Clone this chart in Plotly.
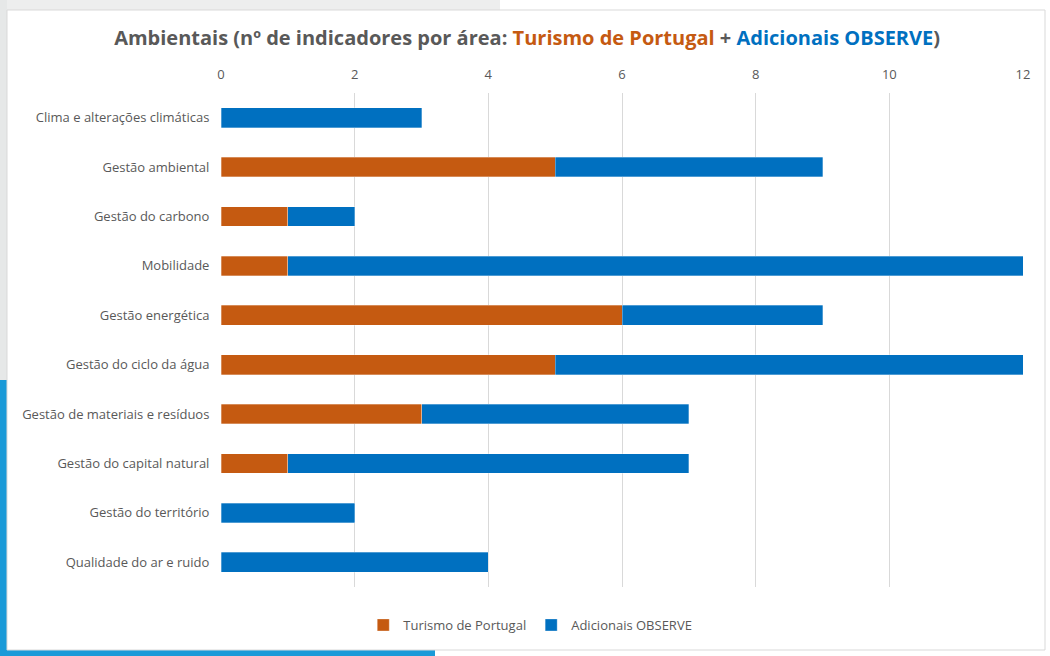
import plotly.graph_objects as go

categories = [
    "Clima e alterações climáticas",
    "Gestão ambiental",
    "Gestão do carbono",
    "Mobilidade",
    "Gestão energética",
    "Gestão do ciclo da água",
    "Gestão de materiais e resíduos",
    "Gestão do capital natural",
    "Gestão do território",
    "Qualidade do ar e ruido",
]
turismo = [0, 5, 1, 1, 6, 5, 3, 1, 0, 0]
adicionais = [3, 4, 1, 11, 3, 7, 4, 6, 2, 4]
x_ticks = [0, 2, 4, 6, 8, 10, 12]

ORANGE = "#C55A11"
BLUE = "#0070C0"
GRAY = "#595959"
FONT = "Open Sans"

W, H = 1050, 656
ML, MR, MT, MB = 221, 27, 93, 69

fig = go.Figure()
fig.add_trace(go.Bar(
    y=categories, x=turismo, orientation="h", name="Turismo de Portugal",
    marker=dict(color=ORANGE, line=dict(color="rgba(255,255,255,0.6)", width=0.5)),
    width=0.4,
))
fig.add_trace(go.Bar(
    y=categories, x=adicionais, orientation="h", name="Adicionais OBSERVE",
    marker=dict(color=BLUE, line=dict(color="rgba(255,255,255,0.6)", width=0.5)),
    width=0.4,
))

title = ("Ambientais (nº de indicadores por área: "
         f"<span style='color:{ORANGE}'>Turismo de Portugal</span> + "
         f"<span style='color:{BLUE}'>Adicionais OBSERVE</span>)")

pw = W - ML - MR
ph = H - MT - MB
def px_x(v):
    return (v - ML) / pw
def px_y(v):
    return 1 - (v - MT) / ph

shapes = [
    # light gray top-left band (slide background)
    dict(type="rect", xref="paper", yref="paper", x0=px_x(0), x1=px_x(500), y0=px_y(10), y1=px_y(0),
         fillcolor="#EDEEEE", line=dict(width=0), layer="below"),
    # left strip
    dict(type="rect", xref="paper", yref="paper", x0=px_x(0), x1=px_x(7), y0=px_y(656), y1=px_y(0),
         fillcolor="#E6E8E8", line=dict(width=0), layer="below"),
    dict(type="rect", xref="paper", yref="paper", x0=px_x(0), x1=px_x(7), y0=px_y(656), y1=px_y(380),
         fillcolor="#1A9AD8", line=dict(width=0), layer="below"),
    dict(type="rect", xref="paper", yref="paper", x0=px_x(0), x1=px_x(435), y0=px_y(656), y1=px_y(650),
         fillcolor="#1A9AD8", line=dict(width=0), layer="below"),
    # chart frame
    dict(type="rect", xref="paper", yref="paper", x0=px_x(7), x1=px_x(1045), y0=px_y(650), y1=px_y(10),
         fillcolor="white", line=dict(color="#D9D9D9", width=1), layer="below"),
]

fig.update_layout(
    barmode="stack",
    width=W, height=H,
    margin=dict(l=ML, r=MR, t=MT, b=MB),
    paper_bgcolor="white",
    plot_bgcolor="rgba(0,0,0,0)",
    font=dict(family=FONT, color=GRAY, size=13),
    title=dict(text=title, x=0.502, xanchor="center", y=1 - 38 / H, yanchor="middle",
               font=dict(family=FONT, size=20, color=GRAY, weight="bold")),
    xaxis=dict(
        side="top", range=[0, 12], tickvals=x_ticks, ticktext=[str(t) for t in x_ticks],
        showgrid=True, gridcolor="#D9D9D9", gridwidth=1, zeroline=False,
        ticks="outside", ticklen=8, tickcolor="rgba(0,0,0,0)",
        tickfont=dict(size=13, color=GRAY), showline=False,
    ),
    yaxis=dict(
        autorange="reversed", showgrid=False, zeroline=False, showline=False,
        ticks="outside", ticklen=8, tickcolor="rgba(0,0,0,0)",
        tickfont=dict(size=13, color=GRAY),
    ),
    legend=dict(orientation="h", xref="container", x=0.505, xanchor="center",
                yref="container", y=1 - 625 / H, yanchor="middle",
                font=dict(size=13, color=GRAY), traceorder="normal", itemwidth=30),
    shapes=shapes,
    showlegend=True,
)

fig.write_html("out.html")
